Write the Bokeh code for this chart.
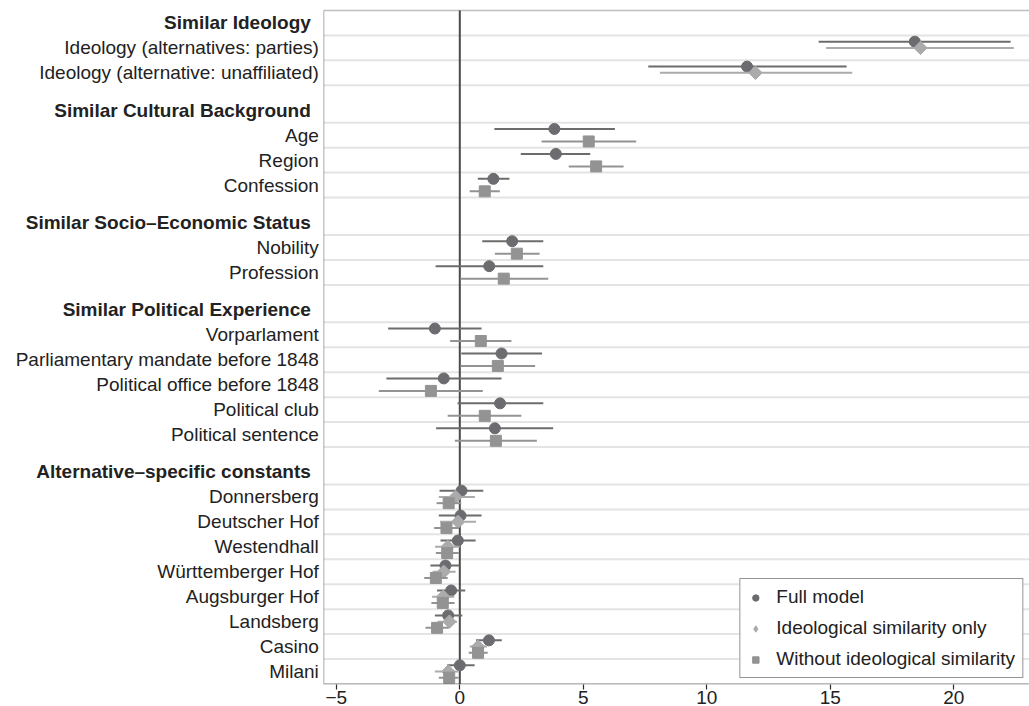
import numpy as np
from bokeh.plotting import figure
from bokeh.models import (ColumnDataSource, Range1d, FixedTicker, BoxAnnotation,
                          Legend, LegendItem)
from bokeh.core.properties import value
from bokeh.embed import file_html
from bokeh.resources import INLINE

nan = float("nan")

groups = ["Similar Ideology", "Similar Cultural Background",
          "Similar Socio–Economic Status", "Similar Political Experience",
          "Alternative–specific constants"]

variables = ["Ideology (alternatives: parties)", "Ideology (alternative: unaffiliated)",
             "Age", "Region", "Confession",
             "Nobility", "Profession",
             "Vorparlament", "Parliamentary mandate before 1848",
             "Political office before 1848", "Political club", "Political sentence",
             "Donnersberg", "Deutscher Hof", "Westendhall", "Württemberger Hof",
             "Augsburger Hof", "Landsberg", "Casino", "Milani"]
group_of = [0, 0, 1, 1, 1, 2, 2, 3, 3, 3, 3, 3, 4, 4, 4, 4, 4, 4, 4, 4]

series_names = ["Full model", "Ideological similarity only", "Without ideological similarity"]

full_est = [18.42, 11.63, 3.83, 3.89, 1.36, 2.12, 1.19, -1.01, 1.69, -0.65, 1.63, 1.42,
            0.07, 0.03, -0.08, -0.58, -0.35, -0.47, 1.18, 0.00]
full_lo = [14.53, 7.63, 1.40, 2.47, 0.73, 0.91, -0.98, -2.90, 0.06, -2.97, -0.09, -0.96,
           -0.82, -0.85, -0.78, -1.19, -0.92, -1.01, 0.66, -0.51]
full_hi = [22.30, 15.66, 6.28, 5.28, 2.01, 3.38, 3.38, 0.88, 3.33, 1.69, 3.38, 3.78,
           0.95, 0.88, 0.64, -0.01, 0.22, 0.10, 1.70, 0.60]

ideo_est = [18.65, 11.97, nan, nan, nan, nan, nan, nan, nan, nan, nan, nan,
            -0.17, -0.07, -0.49, -0.65, -0.67, -0.42, 0.74, -0.47]
ideo_lo = [14.83, 8.10, nan, nan, nan, nan, nan, nan, nan, nan, nan, nan,
           -0.85, -0.80, -1.00, -1.10, -1.12, -0.90, 0.40, -1.01]
ideo_hi = [22.43, 15.89, nan, nan, nan, nan, nan, nan, nan, nan, nan, nan,
           0.61, 0.66, 0.00, -0.17, -0.22, -0.11, 1.10, -0.05]

wo_est = [nan, nan, 5.22, 5.52, 1.01, 2.31, 1.78, 0.85, 1.54, -1.17, 1.01, 1.46,
          -0.45, -0.54, -0.51, -0.97, -0.69, -0.92, 0.74, -0.43]
wo_lo = [nan, nan, 3.31, 4.41, 0.40, 1.42, 0.03, -0.39, 0.03, -3.28, -0.49, -0.20,
         -0.94, -1.04, -0.97, -1.44, -1.15, -1.39, 0.36, -0.85]
wo_hi = [nan, nan, 7.14, 6.63, 1.62, 3.23, 3.58, 2.09, 3.05, 0.93, 2.49, 3.12,
         0.06, -0.04, -0.04, -0.49, -0.21, -0.45, 1.13, -0.05]

x_ticks = [-5, 0, 5, 10, 15, 20]

# ---- layout of rows (in row units, growing downwards) ----
var_y, head_y, grid_y = [], [], []
pos = 0.0
last_g = None
for v, g in zip(variables, group_of):
    if g != last_g:
        if last_g is not None:
            pos += 0.5
        head_y.append(pos + 0.5)
        pos += 1.0
        last_g = g
    var_y.append(pos + 0.5)
    grid_y.extend([pos, pos + 1.0])
    pos += 1.0
total = pos
grid_y = sorted(set(round(gy, 3) for gy in grid_y))

# plotting-area limits (data units) and the label margin to the left of it
W, H = 1029, 706
px_per_unit = 24.7
zero_px = 459.3
x_start = -zero_px / px_per_unit
x_end = x_start + W / px_per_unit
box_left = x_start + 323.3 / px_per_unit
box_right = x_end + 0.3

p = figure(width=W, height=H, output_backend="svg", toolbar_location=None,
           x_range=Range1d(x_start, x_end), y_range=Range1d(total + 0.02, -0.40),
           min_border_left=0, min_border_right=0, min_border_top=0,
           min_border_bottom=0)
p.background_fill_color = "white"
p.border_fill_color = "white"
p.outline_line_color = None
p.yaxis.visible = False
p.xgrid.visible = False
p.ygrid.visible = False

ax = p.xaxis[0]
ax.ticker = FixedTicker(ticks=x_ticks)
ax.major_label_overrides = {t: (str(t) if t >= 0 else "−" + str(-t)) for t in x_ticks}
ax.axis_line_color = None
ax.major_tick_line_color = "#2b2b2b"
ax.major_tick_line_width = 1.2
ax.major_tick_out = 5
ax.major_tick_in = 0
ax.minor_tick_line_color = None
ax.major_label_standoff = 1
ax.major_label_text_font = "Liberation Sans"
ax.major_label_text_font_size = "19px"
ax.major_label_text_color = "#222222"

# horizontal grid lines between coefficient rows
gsrc = ColumnDataSource(dict(y=grid_y, x0=[box_left] * len(grid_y), x1=[box_right] * len(grid_y)))
p.segment(x0="x0", y0="y", x1="x1", y1="y", source=gsrc, line_color="#e4e4e4", line_width=2)

# zero reference line
p.segment(x0=[0], y0=[0], x1=[0], y1=[total], line_color="#4a4a4a", line_width=2)

offsets = [-0.25, 0.0, 0.25]
line_colors = ["#6c6c6c", "#ababab", "#939393"]
fill_colors = ["#6c6c70", "#ababab", "#939393"]
markers = ["circle", "square", "square"]
angles = [0.0, np.pi / 4, 0.0]
sizes = [11, 9.5, 11]
series = [(full_est, full_lo, full_hi), (ideo_est, ideo_lo, ideo_hi), (wo_est, wo_lo, wo_hi)]

legend_items = []
for k, (est, lo, hi) in enumerate(series):
    idx = [i for i in range(len(variables)) if not np.isnan(est[i])]
    src = ColumnDataSource(dict(
        x=[est[i] for i in idx], lo=[lo[i] for i in idx], hi=[hi[i] for i in idx],
        y=[var_y[i] + offsets[k] for i in idx]))
    p.segment(x0="lo", y0="y", x1="hi", y1="y", source=src,
              line_color=line_colors[k], line_width=2)
    r = p.scatter(x="x", y="y", source=src, marker=markers[k], size=sizes[k],
                  angle=angles[k], fill_color=fill_colors[k], line_color=fill_colors[k])
    if k == 1:
        # legend key drawn as a diamond (renderer without visible points)
        r = p.scatter(x=[nan], y=[nan], marker="diamond", size=14,
                      fill_color=fill_colors[k], line_color=fill_colors[k])
    legend_items.append(LegendItem(label=series_names[k], renderers=[r]))

# row labels and bold group headers
p.text(x=[box_left] * len(variables), y=var_y, text=variables, x_offset=-5,
       text_align="right", text_baseline="middle",
       text_font=value("Liberation Sans"), text_font_size="19px", text_color="#222222")
p.text(x=[box_left] * len(groups), y=head_y, text=groups, x_offset=-13,
       text_align="right", text_baseline="middle",
       text_font=value("Liberation Sans"), text_font_size="19px",
       text_font_style="bold", text_color="#222222")

# plot-region frame
p.add_layout(BoxAnnotation(left=box_left, right=box_right, top=0, bottom=total,
                           fill_color=None, fill_alpha=0, line_color="#2b2b2b",
                           line_width=1.3))

legend = Legend(items=legend_items, location="bottom_right")
legend.margin = 6
legend.padding = 7
legend.spacing = 9
legend.glyph_width = 16
legend.glyph_height = 21
legend.label_height = 21
legend.label_standoff = 13
legend.label_text_font = "Liberation Sans"
legend.label_text_font_size = "19px"
legend.label_text_color = "#222222"
legend.border_line_color = "#2b2b2b"
legend.border_line_width = 1.2
legend.background_fill_color = "white"
legend.background_fill_alpha = 1.0
p.add_layout(legend)

open("out.html", "w").write(file_html(p, INLINE))
